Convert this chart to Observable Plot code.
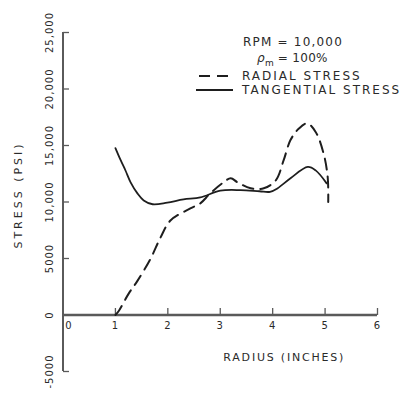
<!DOCTYPE html>
<html>
<head>
<meta charset="utf-8">
<script src="https://cdn.jsdelivr.net/npm/d3@7"></script>
<script src="https://cdn.jsdelivr.net/npm/@observablehq/plot@0.6"></script>
<style>
  body { margin: 0; background: #fff; }
  #chart { position: relative; width: 401px; height: 398px; font-family: "DejaVu Sans", sans-serif; color: #2a2a2a; }
  #chart svg { display: block; }
  .leg { position: absolute; font-size: 12px; letter-spacing: 1.2px; line-height: 1; white-space: nowrap; transform: translateY(-50%); }
  .leg.wide { letter-spacing: 2px; }
  .leg.tight { letter-spacing: 0.3px; }
  .leg sub { font-size: 9px; letter-spacing: 0; }
  .sample { position: absolute; }
</style>
</head>
<body>
<div id="chart"></div>
<script>
// Radius (inches) vs. stress (psi) for a rotor at 10,000 rpm
const tangentialRadius = [1.0, 1.10, 1.19, 1.29, 1.42, 1.54, 1.71, 1.99, 2.30, 2.62, 3.0, 3.39, 3.75, 3.95, 4.09, 4.34, 4.67, 4.82, 5.03];
const tangentialStress = [14770, 13700, 12810, 11740, 10760, 10140, 9800, 9950, 10230, 10400, 11000, 11050, 10950, 10900, 11200, 12100, 13100, 12800, 11650];

const radialRadius = [1.0, 1.07, 1.25, 1.42, 1.67, 1.86, 2.05, 2.43, 2.62, 2.81, 3.05, 3.2, 3.33, 3.58, 3.83, 4.06, 4.21, 4.34, 4.5, 4.66, 4.82, 4.97, 5.05, 5.06];
const radialStress = [0, 400, 1870, 3020, 4980, 6850, 8360, 9430, 9880, 10770, 11700, 12100, 11740, 11210, 11210, 11920, 13700, 15480, 16500, 16950, 16200, 14320, 12190, 10000];

const xTickValues = [0, 1, 2, 3, 4, 5, 6];
const xTickLabels = ["0", "1", "2", "3", "4", "5", "6"];
const yTickValues = [25000, 20000, 15000, 10000, 5000, 0, -5000];
const yTickLabels = ["25,000", "20,000", "15,000", "10,000", "5000", "0", "-5000"];

const xTitle = "RADIUS (INCHES)";
const yTitle = "STRESS (PSI)";
const legendRpm = "RPM = 10,000";
const legendDensity = "100%";
const radialName = "RADIAL STRESS";
const tangentialName = "TANGENTIAL STRESS";

const tangential = tangentialRadius.map((r, i) => ({r, s: tangentialStress[i]}));
const radial = radialRadius.map((r, i) => ({r, s: radialStress[i]}));

// short tick strokes drawn as custom dot symbols
const tickRight = {draw(ctx) { ctx.moveTo(0, 0); ctx.lineTo(6, 0); }};
const tickUp = {draw(ctx) { ctx.moveTo(0, 0); ctx.lineTo(0, -7); }};

const ink = "#2a2a2a";
const axisInk = "#5a5a5a";

const svg = Plot.plot({
  width: 401,
  height: 398,
  marginLeft: 62.5,
  marginRight: 24,
  marginTop: 32,
  marginBottom: 27,
  x: {domain: [0, 6], axis: null},
  y: {domain: [-5000, 25000], axis: null},
  style: {fontFamily: "DejaVu Sans, sans-serif", color: ink, background: "white"},
  marks: [
    Plot.ruleX([0], {stroke: axisInk, strokeWidth: 2}),
    Plot.ruleY([0], {stroke: axisInk, strokeWidth: 2.6}),
    Plot.dot(yTickValues, {x: 0, y: d => d, symbol: tickRight, r: 3, fill: "none", stroke: axisInk, strokeWidth: 1.3}),
    Plot.dot(xTickValues.slice(1), {x: d => d, y: 0, symbol: tickUp, r: 3, fill: "none", stroke: axisInk, strokeWidth: 1.3}),
    Plot.text(yTickValues, {x: 0, y: d => d, text: (d, i) => yTickLabels[i], rotate: -90, dx: -13.5, fontSize: 10, fill: ink}),
    Plot.text(xTickValues.slice(0, 1), {x: d => d, y: 0, text: (d, i) => xTickLabels[i], dx: 6, dy: 11, fontSize: 10, fill: ink}),
    Plot.text(xTickValues.slice(1), {x: d => d, y: 0, text: (d, i) => xTickLabels[i + 1], dy: 11, fontSize: 10, fill: ink}),
    Plot.text([xTitle], {frameAnchor: "bottom", text: d => d, textAnchor: "middle", lineAnchor: "middle", dx: 64, dy: -14, fontSize: 11, fill: ink}),
    Plot.text([yTitle], {frameAnchor: "left", text: d => d, textAnchor: "middle", lineAnchor: "middle", rotate: -90, dx: -44.5, dy: -7, fontSize: 11, fill: ink}),
    Plot.line(tangential, {x: "r", y: "s", curve: "catmull-rom", stroke: "#1e1e1e", strokeWidth: 1.8}),
    Plot.line(radial, {x: "r", y: "s", curve: "catmull-rom", stroke: "#1e1e1e", strokeWidth: 2, strokeDasharray: "11,7"})
  ]
});

// wider lettering for the label texts
const spacing = {[xTitle]: "1.8px", [yTitle]: "3px"};
svg.querySelectorAll("text").forEach(t => {
  t.style.letterSpacing = spacing[t.textContent] || "1px";
});

const chart = document.getElementById("chart");
chart.appendChild(svg);

// legend block
function addText(html, left, top, cls) {
  const d = document.createElement("div");
  d.className = "leg" + (cls ? " " + cls : "");
  d.style.left = left + "px";
  d.style.top = top + "px";
  d.innerHTML = html;
  chart.appendChild(d);
}
function addSample(x1, x2, y, dash) {
  const s = d3.create("svg").attr("class", "sample")
    .attr("width", x2 - x1).attr("height", 4)
    .style("left", x1 + "px").style("top", (y - 2) + "px");
  s.append("line").attr("x1", 0).attr("x2", x2 - x1).attr("y1", 2).attr("y2", 2)
    .attr("stroke", "#1e1e1e").attr("stroke-width", dash ? 2 : 1.8)
    .attr("stroke-dasharray", dash || null);
  chart.appendChild(s.node());
}
addText(legendRpm, 243, 42);
addText("<i>ρ</i><sub>m</sub> = " + legendDensity, 257, 60, "tight");
addText(radialName, 242, 76, "wide");
addText(tangentialName, 242, 90, "wide");
addSample(199, 233, 76, "11,7");
addSample(196, 233, 90, null);
</script>
</body>
</html>
